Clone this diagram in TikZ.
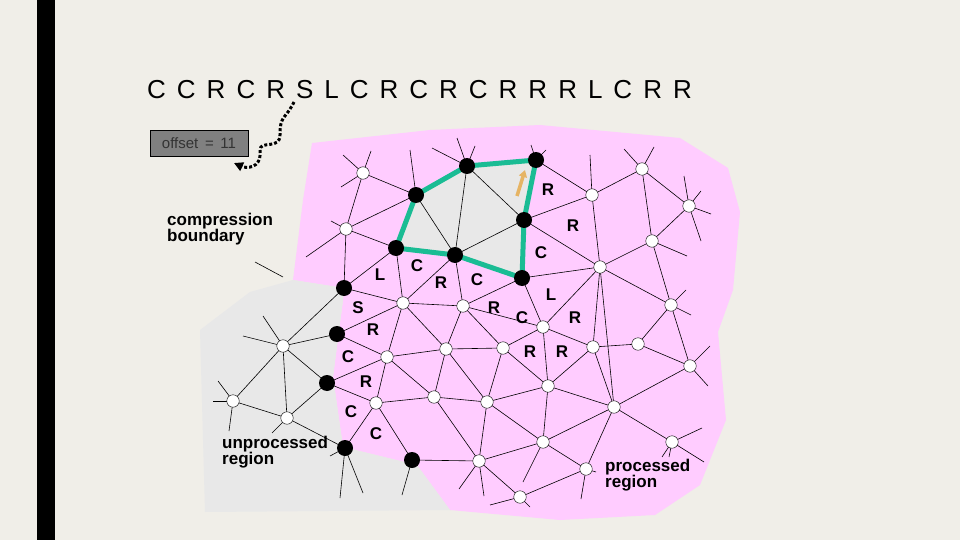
\documentclass[tikz,border=0pt]{standalone}
\usepackage{fontspec}
\setmainfont{Liberation Sans}
\usetikzlibrary{arrows.meta,decorations.pathmorphing}
\definecolor{bg}{RGB}{240,238,232}
\definecolor{pinkr}{RGB}{255,204,255}
\definecolor{greyr}{RGB}{232,232,232}
\definecolor{grn}{RGB}{26,188,148}
\definecolor{orng}{RGB}{230,180,100}
\definecolor{boxg}{RGB}{128,128,128}
\newcommand{\gp}{\hspace{11pt}}
\tikzset{x=1pt,y=-1pt,
 wv/.style={circle,draw=black,fill=white,inner sep=0pt,minimum size=12.5pt},
 bv/.style={circle,fill=black,inner sep=0pt,minimum size=16pt},
 ed/.style={draw=black,line width=0.6pt},
 lab/.style={font=\fontsize{17}{17}\selectfont\bfseries,inner sep=0pt},
 big/.style={font=\fontsize{17}{19}\selectfont\bfseries,align=left,inner sep=0pt,anchor=north west}}
\begin{document}
\begin{tikzpicture}
\fill[bg] (0,0) rectangle (960,540);
\useasboundingbox (0,0) rectangle (960,540);
\fill[black] (37,0) rectangle (55,540);
% regions
\fill[pinkr] (312,143) -- (430,130) -- (540,125) -- (680,138) -- (728,168) -- (740,212) -- (733,290) -- (718,332) -- (726,420) -- (700,485) -- (655,515) -- (560,520) -- (450,510) -- (417,465) -- (343,447) -- (333,377) -- (343,300) -- (344,288) -- (293,280) -- (303,200) -- cycle;
\fill[greyr] (293,280) -- (344,288) -- (343,300) -- (333,377) -- (343,447) -- (417,465) -- (450,510) -- (205,512) -- (200,330) -- (250,292) -- cycle;
% vertices
\foreach \n/\x/\y in {w1/363/173,w2/346/229,w3/592/195,w4/642/169,w5/689/206,w6/652/241,w7/600/267,w8/671/305,w9/463/306,w10/403/303,w11/543/327,w12/503/348,w13/446/349,w14/387/357,w15/283/346,w16/233/401,w17/287/418,w18/376/403,w19/434/397,w20/487/402,w21/548/386,w22/593/347,w23/638/344,w24/690/366,w25/614/407,w26/543/442,w27/479/461,w28/586/469,w29/672/442,w30/520/497}
  \coordinate (\n) at (\x,\y);
\foreach \n/\x/\y in {b1/416/195,b2/467/166,b3/536/160,b4/524/220,b5/455/255,b6/396/248,b7/522/278,b8/344/288,b9/337/334,b10/327/383,b11/345/448,b12/412/460}
  \coordinate (\n) at (\x,\y);
\fill[greyr] (b6) -- (b1) -- (b2) -- (b3) -- (b4) -- (b7) -- (b5) -- cycle;
% edges
\foreach \a/\b in {b1/b5,b2/b5,b2/b4,b4/b5,b1/w1,b1/w2,w1/w2,w2/b6,w2/b8,b6/w10,b8/w10,b5/w10,b5/w9,b7/w9,b7/w11,b7/w7,b4/w7,b4/w3,b3/w3,w3/w4,w3/w7,w4/w5,w4/w6,w5/w6,w6/w7,w6/w8,w7/w8,w7/w11,w7/w22,w7/w25,w9/w10,w9/w11,w9/w12,w11/w12,w11/w21,w11/w22,w12/w21,w12/w13,w12/w20,w21/w22,w21/w20,w21/w25,w21/w26,w22/w23,w22/w25,w23/w24,w23/w8,w24/w8,w24/w25,w25/w26,w25/w28,w25/w29,w26/w27,w26/w28,w26/w20,w27/w20,w27/w19,w27/w30,w28/w30,w10/w14,w10/w13,w9/w13,w13/w14,w13/w19,w13/w20,b9/w10,b9/w14,b9/w15,b10/w14,b10/w18,b10/w15,b10/w17,w14/w18,w14/w19,w18/w19,w18/b11,b12/w18,b12/w27,w19/w20,w15/w16,w15/w17,w16/w17,b8/w15,w17/b11,b6/b8}
  \draw[ed] (\a) -- (\b);
% stubs
\foreach \p/\dx/\dy in {w1/-20/-18,w1/-22/14,w1/8/-22,w2/-40/28,w2/-15/-8,b1/-6/-45,b2/-10/-28,b2/8/-20,b2/-35/-18,b3/-5/-15,b3/10/-10,w3/-2/-40,w4/-18/-20,w4/12/-22,w5/-5/-30,w5/12/-15,w5/22/8,w5/12/35,w6/35/15,w8/15/-15,w8/20/10,w24/20/-20,w24/18/20,w29/30/-14,w29/32/20,w29/-10/15,w29/-3/15,w28/-5/30,w28/10/3,w30/-30/8,w30/10/10,w27/-20/28,w27/5/35,w15/-20/-30,w15/-40/-10,w16/-15/-20,w16/-20/0,w16/-4/30,w17/-15/15,b11/-5/50,b11/18/45,b11/-15/8,b12/-10/35,w26/-20/40}
  \draw[ed] (\p) -- ++(\dx,\dy);
\draw[line width=5pt,grn,line join=round] (b6) -- (b1) -- (b2) -- (b3) -- (b4) -- (b7) -- (b5) -- cycle;
\foreach \n in {w1,w2,w3,w4,w5,w6,w7,w8,w9,w10,w11,w12,w13,w14,w15,w16,w17,w18,w19,w20,w21,w22,w23,w24,w25,w26,w27,w28,w29,w30} \node[wv] (n\n) at (\n) {};
\foreach \n in {b1,b2,b3,b4,b5,b6,b7,b8,b9,b10,b11,b12} \node[bv] (n\n) at (\n) {};
\coordinate (oa) at (517,196);
\coordinate (ob) at (525,170);
\draw[orng,line width=3.5pt,-{Triangle[length=7pt,width=8pt]}] (oa) -- (ob);
% labels
\foreach \t/\x/\y in {R/548/190,R/573/226,C/541/253,L/380/275,C/417/266,R/441/283,C/477/280,L/551/295,S/358/308,R/494/308,C/522/318,R/575/318,R/373/330,R/530/352,R/562/352,C/348/357,R/366/382,C/351/412,C/376/434}
  \node[lab] at (\x,\y) {\t};
\node[font=\fontsize{26}{26}\selectfont,anchor=west,inner sep=0pt] (seq) at (147,90) {C\gp C\gp R\gp C\gp R\gp S\gp L\gp C\gp R\gp C\gp R\gp C\gp R\gp R\gp R\gp L\gp C\gp R\gp R};
\node[draw=black,fill=boxg,text=black!80,font=\fontsize{15}{15}\selectfont,inner xsep=6pt,inner ysep=4pt,minimum width=98pt,minimum height=26pt] (off) at (199,143) {offset\, =\, 11};
\coordinate (ws) at (294,102);
\draw[line width=3pt,dotted,-{Triangle[length=9pt,width=9pt]}] (ws) .. controls (285,120) and (280,115) .. (280,135) .. controls (280,150) and (260,140) .. (260,150) .. controls (262,170) and (245,168) .. (234,163);
\node[big] (cb) at (167,213) {compression\\[-3pt]boundary};
\draw[ed] (255,262) -- (283,277);
\node[big] (ur) at (222,436) {unprocessed\\[-3pt]region};
\node[big] (pr) at (605,459) {processed\\[-3pt]region};
\end{tikzpicture}
\end{document}
